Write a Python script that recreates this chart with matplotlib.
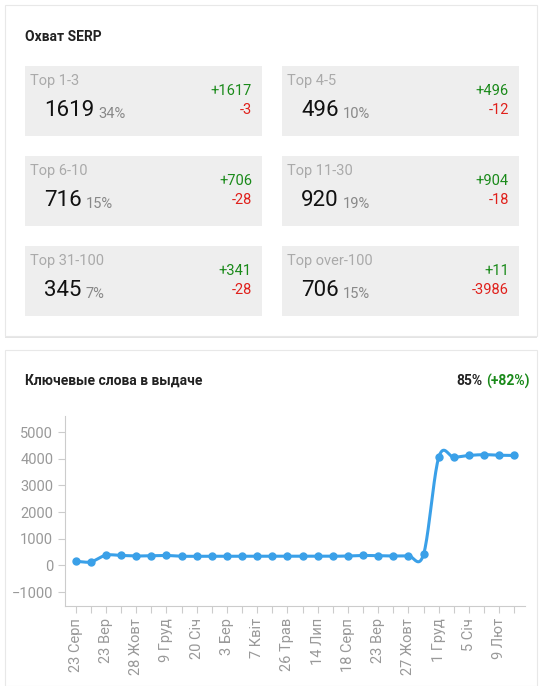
import matplotlib
matplotlib.use("Agg")
import matplotlib.pyplot as plt
from matplotlib.patches import Rectangle
import numpy as np

plt.rcParams['font.family'] = ['Roboto', 'DejaVu Sans']

box_titles = ["Top 1-3", "Top 4-5", "Top 6-10", "Top 11-30", "Top 31-100", "Top over-100"]
box_counts = [1619, 496, 716, 920, 345, 706]
box_pcts = ["34%", "10%", "15%", "19%", "7%", "15%"]
box_plus = ["+1617", "+496", "+706", "+904", "+341", "+11"]
box_minus = ["-3", "-12", "-28", "-18", "-28", "-3986"]

labels = ["23 Серп", "", "23 Вер", "", "28 Жовт", "", "9 Груд", "", "20 Січ", "", "3 Бер", "",
          "7 Квіт", "", "26 Трав", "", "14 Лип", "", "18 Серп", "", "23 Вер", "", "27 Жовт", "",
          "1 Груд", "", "5 Січ", "", "9 Лют", ""]
values = [150, 130, 380, 370, 350, 360, 370, 340, 340, 340, 340, 340, 340, 340, 340, 340, 340, 340,
          350, 370, 360, 350, 360, 420, 4050, 4050, 4120, 4150, 4130, 4120]

W, H = 542, 686
fig = plt.figure(figsize=(W/100, H/100), dpi=100)
fig.patch.set_facecolor('white')
renderer = fig.canvas.get_renderer()

def px(x, y):
    return x / W, 1 - y / H

for (y0, y1) in [(5, 336), (350, 686)]:
    sh = Rectangle(px(5, y1 + 2), 532/W, (y1 - y0)/H, transform=fig.transFigure,
                   facecolor='#e4e4e4', edgecolor='none', zorder=0)
    fig.add_artist(sh)
    r = Rectangle(px(5, y1), 532/W, (y1 - y0)/H, transform=fig.transFigure,
                  facecolor='white', edgecolor='#e8e8e8', lw=0.8, zorder=1)
    fig.add_artist(r)

fig.text(*px(25, 37), "Охват SERP", fontsize=10, fontweight='bold', color='#222222', va='center')

for i in range(6):
    col, row = i % 2, i // 2
    x0 = 25 + col * 257
    y0 = 66 + row * 90
    r = Rectangle(px(x0, y0 + 70), 237/W, 70/H, transform=fig.transFigure,
                  facecolor='#eeeeee', edgecolor='none', zorder=2)
    fig.add_artist(r)
    fig.text(*px(x0 + 5, y0 + 15), box_titles[i], fontsize=10.5, color='#aaaaaa', va='center', zorder=3)
    t = fig.text(*px(x0 + 19, y0 + 44), str(box_counts[i]), fontsize=16, color='#111111', va='center', zorder=3)
    bb = t.get_window_extent(renderer)
    fig.text((bb.x1 + 4) / W, px(0, y0 + 48)[1], box_pcts[i], fontsize=10.5, color='#888888', va='center', zorder=3)
    fig.text(*px(x0 + 227, y0 + 25), box_plus[i], fontsize=10.5, color='#1a8a1a', va='center', ha='right', zorder=3)
    fig.text(*px(x0 + 227, y0 + 44), box_minus[i], fontsize=10.5, color='#e0201b', va='center', ha='right', zorder=3)

fig.text(*px(25, 381), "Ключевые слова в выдаче", fontsize=10, fontweight='bold', color='#222222', va='center')
g = fig.text(*px(530, 381), "(+82%)", fontsize=10, fontweight='bold', color='#1a8a1a', va='center', ha='right')
gb = g.get_window_extent(renderer)
fig.text((gb.x0 - 4) / W, px(0, 381)[1], "85%", fontsize=10, fontweight='bold', color='#222222', va='center', ha='right')

ax = fig.add_axes([65/W, 1 - 606/H, 460/W, 190/H])
ax.set_zorder(5)
ax.patch.set_alpha(0)
n = len(values)
x = np.arange(n)
y = np.array(values, float)
xs, ys = [], []
P = np.concatenate([[y[0]], y, [y[-1]]])
for i in range(n - 1):
    p0, p1, p2, p3 = P[i], P[i+1], P[i+2], P[i+3]
    t = np.linspace(0, 1, 20, endpoint=False)
    yy = 0.5 * ((2*p1) + (-p0 + p2)*t + (2*p0 - 5*p1 + 4*p2 - p3)*t**2 + (-p0 + 3*p1 - 3*p2 + p3)*t**3)
    xs.extend(i + t); ys.extend(yy)
xs.append(n - 1); ys.append(y[-1])
ax.plot(xs, ys, color='#3aa0e8', lw=2.2, zorder=3)
ax.plot(x, y, 'o', color='#3aa0e8', ms=5, zorder=4)
ax.set_xlim(-0.7, n - 0.3)
ax.set_ylim(-1525, 5600)
ax.set_yticks(range(-1000, 5001, 1000))
ax.set_xticks(x)
ax.set_xticklabels(labels, rotation=90, fontsize=10.5, color='#999999')
ax.tick_params(axis='y', labelsize=10.5, labelcolor='#999999', color='#cccccc', length=5)
ax.tick_params(axis='x', color='#cccccc', length=5)
for s in ['top', 'right']:
    ax.spines[s].set_visible(False)
for s in ['left', 'bottom']:
    ax.spines[s].set_color('#cccccc')

fig.savefig('out.png', dpi=100, facecolor='white')
